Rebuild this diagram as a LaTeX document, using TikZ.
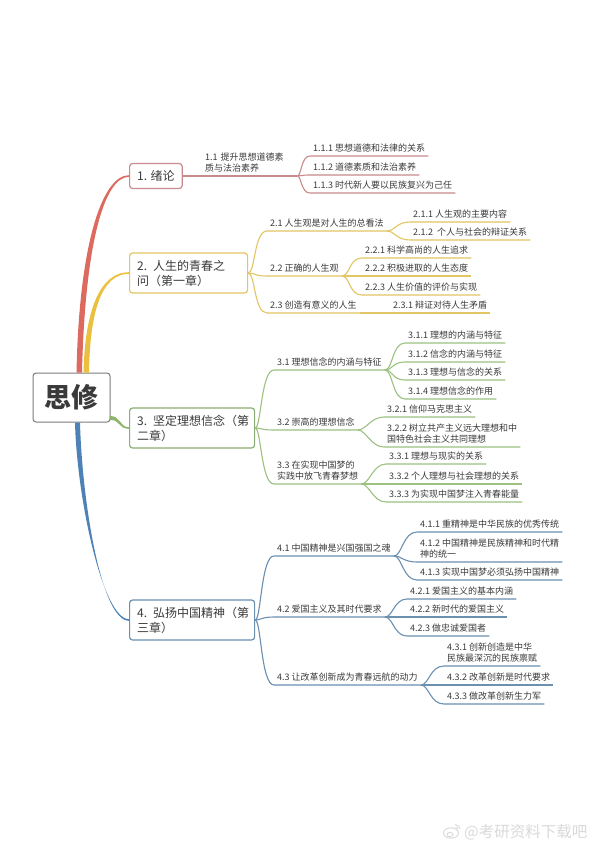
\documentclass[tikz,border=0pt]{standalone}
\usepackage{fontspec}
\setmainfont{Noto Sans CJK SC}
\usetikzlibrary{calc}
\definecolor{txt}{HTML}{3A3A3A}
\definecolor{rMain}{HTML}{DD6A5F}
\definecolor{rLine}{HTML}{C98A8C}
\definecolor{yMain}{HTML}{EBC03E}
\definecolor{yLine}{HTML}{E3C664}
\definecolor{gMain}{HTML}{8DB56B}
\definecolor{gLine}{HTML}{9CC180}
\definecolor{bMain}{HTML}{4E82B6}
\definecolor{bLine}{HTML}{6B90B0}
\definecolor{wm}{HTML}{DADADA}
\definecolor{cBorder}{HTML}{7C7C7C}
\begin{document}
\begin{tikzpicture}[x=1pt,y=-1pt,
  topic/.style={draw, rounded corners=3pt, line width=1.2pt, fill=white, text=txt,
    font=\fontsize{12}{15}\selectfont, inner xsep=7.5pt, align=left, anchor=west},
  central/.style={draw=cBorder, rounded corners=3pt, line width=1pt, fill=white,
    minimum width=77pt, minimum height=49pt, inner sep=0pt,
    font=\fontsize{27}{30}\selectfont\bfseries, text=txt},
  leaf/.style={anchor=south west, inner xsep=3pt, inner ysep=3.2pt, text=txt,
    font=\fontsize{9}{11.8}\selectfont, text height=7.5pt, text depth=1.2pt},
  leafm/.style={anchor=south west, inner xsep=3pt, inner ysep=3.2pt, text=txt,
    font=\fontsize{9}{11.8}\selectfont, align=left},
  rl/.style={draw=rLine, line width=1.1pt},
  yl/.style={draw=yLine, line width=1.1pt},
  gl/.style={draw=gLine, line width=1.1pt},
  bl/.style={draw=bLine, line width=1.1pt}]
\useasboundingbox (0,0) rectangle (600,847);
\fill[white] (0,0) rectangle (600,847);

% central topic
\node[central] (c) at (71.5,397.5) {思修};

% main topics
\node[topic, draw=rLine, minimum height=25pt] (n1) at (129,176) {1. 绪论};
\node[topic, draw=yLine, text width=103pt, minimum height=40pt] (n2) at (129,273) {\mbox{2. 人生的青春之}\\问（第一章）};
\node[topic, draw=gLine!90!black, text width=110pt, minimum height=40pt] (n3) at (129,428) {\mbox{3. 坚定理想信念（第}\\二章）};
\node[topic, draw=bLine, text width=110pt, minimum height=40pt] (n4) at (129,620) {\mbox{4. 弘扬中国精神（第}\\三章）};

% tapered main branches
\fill[yMain] ($(c.north)+(12,0)$) .. controls (85,310) and (100,272.2) .. ([yshift=0.8pt]n2.west)
  -- ([yshift=-0.8pt]n2.west) .. controls (102,273.8) and (90,310) .. ($(c.north)+(17.5,0)$) -- cycle;
\fill[rMain] ($(c.north)+(5,0)$) .. controls (79,245) and (102,175.2) .. ([yshift=0.8pt]n1.west)
  -- ([yshift=-0.8pt]n1.west) .. controls (104,176.8) and (85,245) .. ($(c.north)+(10.5,0)$) -- cycle;
\fill[gMain] ($(c.south east)+(-1,-6.5)$) .. controls (121,415.5) and (119,427.2) .. ([yshift=0.8pt]n3.west)
  -- ([yshift=-0.8pt]n3.west) .. controls (118,428.8) and (120,419) .. ($(c.south east)+(-1,-2.5)$) -- cycle;
\fill[bMain] ($(c.south)+(3.5,0)$) .. controls (77,500) and (103,619.2) .. ([yshift=0.8pt]n4.west)
  -- ([yshift=-0.8pt]n4.west) .. controls (101,620.8) and (82,500) .. ($(c.south)+(8.5,0)$) -- cycle;

% ---------- group 1 ----------
\node[leafm, text width=89pt] (n11) at (202,176) {1.1 提升思想道德素\\质与法治素养};
\node[leaf] (n111) at (310,156) {1.1.1 思想道德和法律的关系};
\node[leaf] (n112) at (310,175) {1.1.2 道德素质和法治素养};
\node[leaf] (n113) at (310,193) {1.1.3 时代新人要以民族复兴为己任};
\draw[rl] (n1.east) -- (n11.south west) -- (n11.south east);
\draw[rl] (n11.south east) .. controls +(4,0) and +(-9,0) .. (n111.south west) -- (n111.south east);
\draw[rl] (n11.south east) .. controls +(4,0) and +(-9,0) .. (n112.south west) -- (n112.south east);
\draw[rl] (n11.south east) .. controls +(4,0) and +(-9,0) .. (n113.south west) -- (n113.south east);

% ---------- group 2 ----------
\node[leaf] (n21) at (267,231) {2.1 人生观是对人生的总看法};
\node[leaf] (n22) at (267,276) {2.2 正确的人生观};
\node[leaf] (n23) at (267,313) {2.3 创造有意义的人生};
\node[leaf] (n211) at (410,222) {2.1.1 人生观的主要内容};
\node[leaf] (n212) at (410,240) {2.1.2\ \ 个人与社会的辩证关系};
\node[leaf] (n221) at (362,258) {2.2.1 科学高尚的人生追求};
\node[leaf] (n222) at (362,276) {2.2.2 积极进取的人生态度};
\node[leaf] (n223) at (362,295) {2.2.3 人生价值的评价与实现};
\node[leaf] (n231) at (390,313) {2.3.1 辩证对待人生矛盾};
\foreach \k in {n21,n22,n23}
  \draw[yl] (n2.east) .. controls +(7,0) and +(-13,0) .. (\k.south west) -- (\k.south east);
\foreach \k in {n211,n212}
  \draw[yl] (n21.south east) .. controls +(8,0) and +(-14,0) .. (\k.south west) -- (\k.south east);
\foreach \k in {n221,n222,n223}
  \draw[yl] (n22.south east) .. controls +(8,0) and +(-13,0) .. (\k.south west) -- (\k.south east);
\draw[yl] (n23.south east) -- (n231.south west) -- (n231.south east);

% ---------- group 3 ----------
\node[leaf] (n31) at (274,370) {3.1 理想信念的内涵与特征};
\node[leaf] (n32) at (274,430) {3.2 崇高的理想信念};
\node[leafm] (n33) at (274,484) {3.3 在实现中国梦的\\实践中放飞青春梦想};
\node[leaf] (n311) at (405,343) {3.1.1 理想的内涵与特征};
\node[leaf] (n312) at (405,362) {3.1.2 信念的内涵与特征};
\node[leaf] (n313) at (405,380) {3.1.3 理想与信念的关系};
\node[leaf] (n314) at (405,399) {3.1.4 理想信念的作用};
\node[leaf] (n321) at (384,417) {3.2.1 信仰马克思主义};
\node[leafm] (n322) at (384,447) {3.2.2 树立共产主义远大理想和中\\国特色社会主义共同理想};
\node[leaf] (n331) at (386,464) {3.3.1 理想与现实的关系};
\node[leaf] (n332) at (386,484) {3.3.2 个人理想与社会理想的关系};
\node[leaf] (n333) at (386,502) {3.3.3 为实现中国梦注入青春能量};
\foreach \k in {n31,n32,n33}
  \draw[gl] (n3.east) .. controls +(6,0) and +(-13,0) .. (\k.south west) -- (\k.south east);
\foreach \k in {n311,n312,n313,n314}
  \draw[gl] (n31.south east) .. controls +(8,0) and +(-13,0) .. (\k.south west) -- (\k.south east);
\foreach \k in {n321,n322}
  \draw[gl] (n32.south east) .. controls +(8,0) and +(-13,0) .. (\k.south west) -- (\k.south east);
\foreach \k in {n331,n332,n333}
  \draw[gl] (n33.south east) .. controls +(8,0) and +(-13,0) .. (\k.south west) -- (\k.south east);

% ---------- group 4 ----------
\node[leaf] (n41) at (274,556) {4.1 中国精神是兴国强国之魂};
\node[leaf] (n42) at (274,617) {4.2 爱国主义及其时代要求};
\node[leaf] (n43) at (274,685) {4.3 让改革创新成为青春远航的动力};
\node[leaf] (n411) at (417,532) {4.1.1 重精神是中华民族的优秀传统};
\node[leafm] (n412) at (417,562) {4.1.2 中国精神是民族精神和时代精\\神的统一};
\node[leaf] (n413) at (417,580) {4.1.3 实现中国梦必须弘扬中国精神};
\node[leaf] (n421) at (407,599) {4.2.1 爱国主义的基本内涵};
\node[leaf] (n422) at (407,617) {4.2.2 新时代的爱国主义};
\node[leaf] (n423) at (407,636) {4.2.3 做忠诚爱国者};
\node[leafm] (n431) at (444,666) {4.3.1 创新创造是中华\\民族最深沉的民族禀赋};
\node[leaf] (n432) at (444,685) {4.3.2 改革创新是时代要求};
\node[leaf] (n433) at (444,704) {4.3.3 做改革创新生力军};
\foreach \k in {n41,n42,n43}
  \draw[bl] (n4.east) .. controls +(6,0) and +(-13,0) .. (\k.south west) -- (\k.south east);
\foreach \k in {n411,n412,n413}
  \draw[bl] (n41.south east) .. controls +(8,0) and +(-14,0) .. (\k.south west) -- (\k.south east);
\foreach \k in {n421,n422,n423}
  \draw[bl] (n42.south east) .. controls +(8,0) and +(-13,0) .. (\k.south west) -- (\k.south east);
\foreach \k in {n431,n432,n433}
  \draw[bl] (n43.south east) .. controls +(8,0) and +(-14,0) .. (\k.south west) -- (\k.south east);

% ---------- watermark ----------
\node[anchor=west, inner sep=0pt, text=wm, font=\fontsize{15.5}{16}\selectfont] (wmtext) at (464,832) {@考研资料下载吧};
\draw[wm, line width=1pt] (451,833) ellipse [x radius=7.5, y radius=5.2];
\draw[wm, line width=0.9pt] (450,834.5) ellipse [x radius=3, y radius=2.2];
\draw[wm, line width=0.9pt] (455,824.5) .. controls (458,824.5) and (460,826.5) .. (460,829);
\draw[wm, line width=0.9pt] (455.5,827) .. controls (457,827) and (457.8,828) .. (457.8,829.3);
\end{tikzpicture}
\end{document}
